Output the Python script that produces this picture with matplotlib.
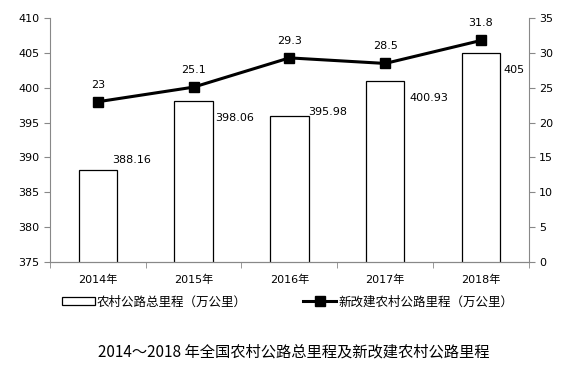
import numpy as np
import matplotlib.pyplot as plt

plt.rcParams['font.family'] = ['DejaVu Sans', 'Noto Sans CJK SC']

# 数据
years = ['2014年', '2015年', '2016年', '2017年', '2018年']
total_km = [388.16, 398.06, 395.98, 400.93, 405]
new_km = [23, 25.1, 29.3, 28.5, 31.8]
total_labels = ['388.16', '398.06', '395.98', '400.93', '405']
new_labels = ['23', '25.1', '29.3', '28.5', '31.8']
# 标签偏移 (像素)
bar_lab_off = [(-5, 10), (2, -17), (0, 4), (5, -17), (3, -17)]

fig = plt.figure(figsize=(5.87, 3.71), dpi=100)
ax = fig.add_axes([0.085, 0.294, 0.816, 0.657])
ax2 = ax.twinx()

x = np.arange(len(years))
bw = 0.4
ax.bar(x, total_km, width=bw, bottom=0, color='white', edgecolor='black', linewidth=0.9,
       label='农村公路总里程（万公里）', zorder=2)
ax.set_ylim(375, 410)
ax.set_yticks(np.arange(375, 411, 5))
ax.set_xlim(-0.5, 4.5)
ax.set_xticks(x)
ax.set_xticklabels(years)
ax.set_xticks(np.arange(-0.5, 5, 1), minor=True)

ax2.plot(x, new_km, color='black', lw=2.2, marker='s', markersize=6.5, label='新改建农村公路里程（万公里）', zorder=3)
ax2.set_ylim(0, 35)
ax2.set_yticks(np.arange(0, 36, 5))

for a in (ax, ax2):
    a.spines['top'].set_visible(False)
    for s in ['left', 'right', 'bottom']:
        a.spines[s].set_color('#888888')
    a.tick_params(labelsize=8, colors='black', length=4, width=0.8)
    a.tick_params(axis='both', color='#888888')
ax2.spines['left'].set_visible(False)
ax.spines['right'].set_visible(False)
ax.tick_params(axis='x', which='major', length=0, pad=9)
ax.tick_params(axis='x', which='minor', length=4, color='#888888', direction='out')

for i in range(len(x)):
    dx, dy = bar_lab_off[i]
    ax.annotate(total_labels[i], (x[i] + bw / 2, total_km[i]), xytext=(dx * 0.72, dy * 0.72),
                textcoords='offset points', ha='left', va='center', fontsize=8, zorder=4)
    ax2.annotate(new_labels[i], (x[i], new_km[i]), xytext=(0, 12 * 0.72),
                 textcoords='offset points', ha='center', va='bottom', fontsize=8)

h1, l1 = ax.get_legend_handles_labels()
h2, l2 = ax2.get_legend_handles_labels()
fig.legend(h1 + h2, l1 + l2, loc='center', bbox_to_anchor=(0.49, 0.186), ncol=2, frameon=False,
           fontsize=9, handlelength=2.6, handleheight=0.7, columnspacing=4.5, handletextpad=0.2)

fig.text(0.5, 0.05, '2014～2018 年全国农村公路总里程及新改建农村公路里程', ha='center', va='center', fontsize=11,
         family=['Noto Sans CJK SC', 'DejaVu Sans'])

fig.savefig('out.png', dpi=100)
